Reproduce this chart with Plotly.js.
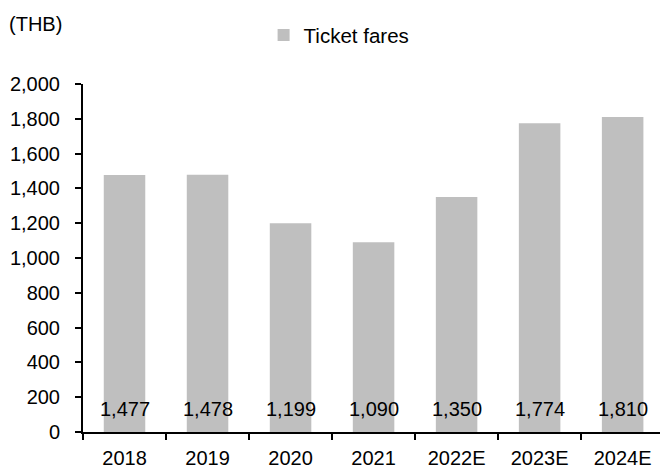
<!DOCTYPE html>
<html>
<head>
<meta charset="utf-8">
<script src="https://cdn.plot.ly/plotly-3.0.1.min.js"></script>
<style>html,body{margin:0;padding:0;background:#fff;}#chart{width:660px;height:468px;}</style>
</head>
<body>
<div id="chart"></div>
<script>
var categories = ["2018", "2019", "2020", "2021", "2022E", "2023E", "2024E"];
var ticketFares = [1477, 1478, 1199, 1090, 1350, 1774, 1810];
var yTicks = [0, 200, 400, 600, 800, 1000, 1200, 1400, 1600, 1800, 2000];

var FONT = "Liberation Sans, Arial, sans-serif";

var trace = {
  type: "bar",
  name: "Ticket fares",
  x: categories,
  y: ticketFares,
  width: 0.5,
  marker: {color: "#bfbfbf"},
  hoverinfo: "x+y"
};

var annotations = categories.map(function (c, i) {
  return {
    x: i, y: 0, xref: "x", yref: "y",
    text: ticketFares[i].toLocaleString("en-US"),
    showarrow: false, yanchor: "middle", yshift: 23,
    font: {family: FONT, size: 20, color: "#000"}
  };
});
annotations.push({
  xref: "paper", yref: "paper", x: -0.1317, y: 1.172,
  xanchor: "left", yanchor: "middle", showarrow: false,
  text: "(THB)", font: {family: FONT, size: 20, color: "#000"}
});

var layout = {
  width: 660, height: 468,
  margin: {l: 83, r: 0, t: 84, b: 36, pad: 0},
  paper_bgcolor: "#fff", plot_bgcolor: "#fff",
  font: {family: FONT, size: 20, color: "#000"},
  showlegend: true,
  legend: {
    orientation: "h", x: 0.313, xanchor: "left", y: 1.14, yanchor: "middle",
    font: {family: FONT, size: 20.5, color: "#000"}, bgcolor: "rgba(0,0,0,0)"
  },
  bargap: 0.5,
  xaxis: {
    type: "category", range: [-0.5, 6.45],
    showline: true, linecolor: "#000", linewidth: 2,
    ticks: "outside", tickson: "boundaries", ticklen: 6, tickwidth: 2, tickcolor: "#000",
    ticklabelstandoff: 7,
    showgrid: false, zeroline: false, fixedrange: true,
    tickfont: {family: FONT, size: 20, color: "#000"}
  },
  yaxis: {
    range: [0, 2000], tickvals: yTicks,
    ticktext: yTicks.map(function (v) { return v.toLocaleString("en-US"); }),
    showline: true, linecolor: "#000", linewidth: 2,
    ticks: "outside", ticklen: 6, tickwidth: 2, tickcolor: "#000",
    ticklabelstandoff: 11,
    showgrid: false, zeroline: false, fixedrange: true,
    tickfont: {family: FONT, size: 20, color: "#000"}
  },
  annotations: annotations
};

Plotly.newPlot("chart", [trace], layout, {displayModeBar: false, staticPlot: true});
</script>
</body>
</html>
